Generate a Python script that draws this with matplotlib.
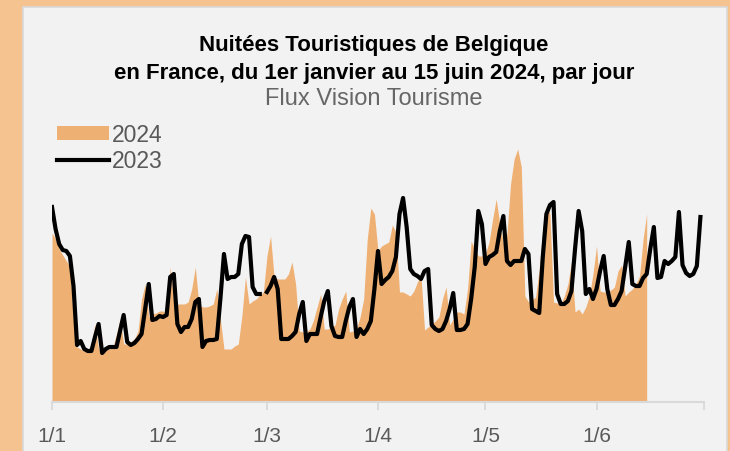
import numpy as np
import matplotlib.pyplot as plt
from matplotlib.patches import Rectangle
from matplotlib.lines import Line2D

plt.rcParams['font.family'] = ['Liberation Sans', 'DejaVu Sans']

# nuitees par jour (unite arbitraire), 2024 : du 1er janvier au 15 juin
jan_2024 = [169, 163, 153, 147, 141, 135, 80, 55, 53, 51, 51, 58, 78, 53, 51, 53,
            53, 55, 68, 83, 58, 58, 60, 63, 71, 103, 118, 85, 88, 89, 91]
feb_2024 = [91, 88, 135, 98, 98, 98, 98, 100, 113, 135, 98, 95, 95, 96, 98, 113,
            83, 53, 53, 53, 56, 58, 86, 125, 98, 101, 103, 107, 110]
mar_2024 = [146, 166, 125, 123, 123, 123, 128, 140, 118, 71, 70, 70, 73, 82, 95, 108,
            73, 73, 75, 77, 93, 103, 111, 70, 71, 73, 85, 103, 163, 194, 188]
apr_2024 = [151, 156, 158, 160, 177, 170, 110, 110, 108, 106, 111, 120, 126, 72, 75, 78,
            81, 85, 103, 115, 77, 83, 90, 90, 88, 113, 161, 153, 146, 146]
may_2024 = [148, 160, 183, 203, 178, 158, 168, 218, 243, 253, 235, 106, 100, 102, 105, 133,
            175, 196, 188, 100, 99, 98, 106, 118, 140, 90, 93, 88, 95, 106, 128]
jun_2024 = [156, 111, 110, 110, 112, 115, 131, 137, 106, 110, 113, 118, 126, 163, 188]

# 2023, place sur le calendrier 2024 (pas de 29 fevrier)
jan_2023 = [195, 173, 158, 152, 151, 146, 116, 57, 61, 53, 51, 51, 65, 78, 49, 53,
            55, 55, 55, 71, 87, 60, 57, 59, 63, 68, 93, 118, 82, 83, 86]
feb_2023 = [85, 87, 125, 128, 78, 70, 75, 75, 83, 100, 103, 55, 61, 62, 62, 63,
            103, 148, 123, 125, 125, 128, 158, 166, 165, 115, 108, 108, np.nan]
mar_2023 = [110, 116, 125, 113, 63, 63, 63, 66, 70, 88, 100, 61, 68, 68, 68, 85,
            101, 111, 76, 66, 65, 65, 81, 95, 103, 65, 73, 68, 73, 81, 113]
apr_2023 = [151, 118, 122, 125, 131, 145, 188, 204, 175, 133, 128, 126, 123, 131, 133, 77,
            73, 71, 73, 81, 93, 109, 72, 72, 73, 78, 103, 135, 191, 178]
may_2023 = [138, 145, 147, 150, 171, 186, 141, 137, 141, 141, 141, 153, 148, 93, 91, 89,
            145, 188, 197, 200, 108, 98, 98, 101, 111, 153, 191, 171, 108, 113, 103]
jun_2023 = [113, 131, 146, 113, 97, 97, 103, 111, 135, 160, 118, 116, 116, 124, 128, 153,
            175, 124, 125, 141, 138, 141, 145, 190, 137, 129, 126, 128, 136, 185]

y2024 = np.array(jan_2024 + feb_2024 + mar_2024 + apr_2024 + may_2024 + jun_2024, dtype=float)
y2023 = np.array(jan_2023 + feb_2023 + mar_2023 + apr_2023 + may_2023 + jun_2023, dtype=float)

month_starts = [0, 31, 60, 91, 121, 152, 182]
month_labels = ['1/1', '1/2', '1/3', '1/4', '1/5', '1/6', '']

fig = plt.figure(figsize=(7.3, 4.52), dpi=100, facecolor='#F5C38F')
panel = Rectangle((23 / 730, -0.05), 704 / 730, 1.05 - 8 / 452,
                  transform=fig.transFigure, facecolor='#F2F2F2',
                  edgecolor='#D9D9D9', lw=1.2, zorder=-10)
fig.add_artist(panel)

ax = fig.add_axes([52 / 730, 1 - 403 / 452, 652 / 730, 263 / 452])
ax.set_facecolor('none')
ax.set_zorder(5)

x2024 = np.arange(len(y2024))
x2023 = np.arange(len(y2023))
ax.fill_between(x2024, 0, y2024, color='#EFB073', lw=0)
ax.plot(x2023, y2023, color='black', lw=3, solid_joinstyle='round')

ax.set_xlim(0, 182)
ax.set_ylim(0, 263)
ax.set_yticks([])
ax.set_xticks(month_starts)
ax.set_xticklabels(month_labels)
ax.tick_params(axis='x', colors='#D9D9D9', length=6, width=1.3, pad=11,
               labelsize=15, labelcolor='#595959')
for s in ['top', 'right', 'left']:
    ax.spines[s].set_visible(False)
ax.spines['bottom'].set_color('#D9D9D9')
ax.spines['bottom'].set_linewidth(1.5)

fig.text(374 / 730, 1 - 46 / 452, 'Nuitées Touristiques de Belgique',
         ha='center', va='center', fontsize=16, fontweight='bold')
fig.text(374 / 730, 1 - 73 / 452, 'en France, du 1er janvier au 15 juin 2024, par jour',
         ha='center', va='center', fontsize=16, fontweight='bold')
fig.text(374 / 730, 1 - 99 / 452, 'Flux Vision Tourisme',
         ha='center', va='center', fontsize=17, color='#666666')

handles = [Rectangle((0, 0), 1, 1, facecolor='#EFB073', lw=0),
           Line2D([], [], color='black', lw=3)]
fig.legend(handles, ['2024', '2023'], loc='upper left',
           bbox_to_anchor=(41 / 730, 1 - 108 / 452), frameon=False,
           fontsize=16.5, labelcolor='#595959', handlelength=2.25,
           handleheight=0.6, handletextpad=0.15, labelspacing=0.15,
           borderpad=0.2)

fig.savefig('out.png', dpi=100, facecolor=fig.get_facecolor())
